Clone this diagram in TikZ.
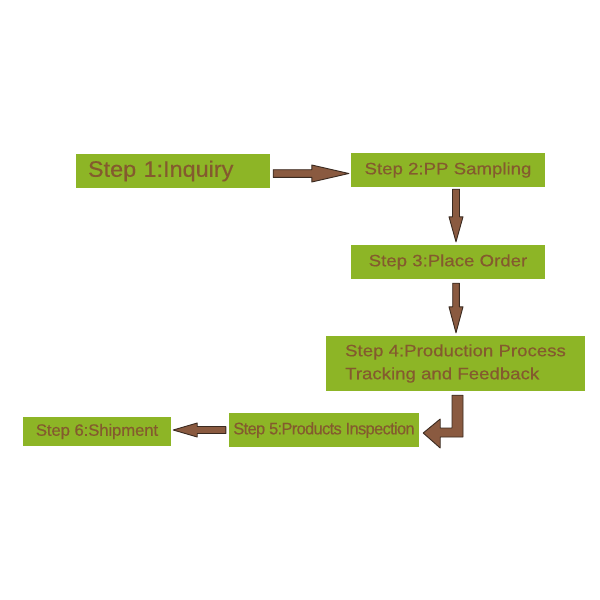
\documentclass[tikz,border=0pt]{standalone}
\usepackage{fontspec}
\setmainfont{Liberation Sans}
\newfontfamily\fA[FakeStretch=1.05,FakeBold=0.3]{Liberation Sans}
\newfontfamily\fB[FakeStretch=1.13,FakeBold=0.3]{Liberation Sans}
\newfontfamily\fC[FakeStretch=0.98,LetterSpace=-4,FakeBold=0.3]{Liberation Sans}
\newfontfamily\fD[FakeStretch=1.02,LetterSpace=-1,FakeBold=0.3]{Liberation Sans}
\usetikzlibrary{calc}
\definecolor{boxgreen}{HTML}{8DB526}
\definecolor{txtbrown}{HTML}{845A2E}
\definecolor{arrfill}{HTML}{8A5A40}
\definecolor{arrline}{HTML}{3A2A20}
\tikzset{
  stepbox/.style={fill=boxgreen, text=txtbrown, inner sep=0pt, anchor=center},
  arr/.style={fill=arrfill, draw=arrline, line width=0.9pt, line join=round}
}
% straight block arrow from #1 to #2: shaft half width #3, head half width #4, head length #5
\newcommand\flowarrow[5]{%
  \coordinate (fab) at ($(#2)!#5!(#1)$);
  \filldraw[arr] ($(#1)!#3!90:(#2)$) -- ($(fab)!#3!-90:(#1)$) -- ($(fab)!#4!-90:(#1)$)
    -- (#2) -- ($(fab)!#4!90:(#1)$) -- ($(fab)!#3!90:(#1)$) -- ($(#1)!#3!-90:(#2)$) -- cycle;}
\begin{document}
\begin{tikzpicture}[x=1pt,y=-1pt]
\useasboundingbox[fill=white] (0,0) rectangle (600,600);

\node[stepbox, minimum width=194pt, minimum height=34pt, text width=170pt, align=left,
  font=\fontsize{22.3}{26}\fA] (s1) at (173,171) {Step 1:Inquiry};
\node[stepbox, minimum width=194pt, minimum height=34pt,
  font=\fontsize{16.5}{23}\fB] (s2) at (448,170) {Step 2:PP Sampling};
\node[stepbox, minimum width=194pt, minimum height=34pt,
  font=\fontsize{16.5}{23}\fB] (s3) at (448,262) {Step 3:Place Order};
\node[stepbox, minimum width=259pt, minimum height=55pt, align=left,
  font=\fontsize{16.5}{23}\fB] (s4) at (455.5,363.5) {Step 4:Production Process\\Tracking and Feedback};
\node[stepbox, minimum width=190pt, minimum height=34pt,
  font=\fontsize{16.8}{20}\fC] (s5) at (324,430) {Step 5:Products Inspection};
\node[stepbox, minimum width=148pt, minimum height=29pt,
  font=\fontsize{16.5}{20}\fD] (s6) at (97,431.5) {Step 6:Shipment};

% arrow 1 -> 2
\coordinate (a1s) at ($(s1.east)+(3,2.5)$);
\coordinate (a1e) at ($(s2.west)+(-2,3.5)$);
\flowarrow{a1s}{a1e}{3.8pt}{8.5pt}{37pt}
% arrow 2 -> 3
\coordinate (a2s) at ($(s2.south)+(8,2)$);
\coordinate (a2e) at ($(s3.north)+(8,-3)$);
\flowarrow{a2s}{a2e}{3.5pt}{7pt}{25pt}
% arrow 3 -> 4
\coordinate (a3s) at ($(s3.south)+(8,4)$);
\coordinate (a3e) at ($(s4.north)+(0.5,-3)$);
\flowarrow{a3s}{a3e}{3.3pt}{7pt}{26pt}
% arrow 4 -> 5 (L-shaped)
\coordinate (Lt) at ($(s4.south)+(2,4)$);
\coordinate (Lh) at ($(s5.east)+(4,3)$);
\filldraw[arr] ($(Lt)+(-5.5,0)$) -- ($(Lt)+(5.5,0)$) -- ($(Lt |- Lh)+(5.5,4)$)
  -- ($(Lh)+(17,4)$) -- ($(Lh)+(17,15)$) -- (Lh) -- ($(Lh)+(17,-14)$)
  -- ($(Lh)+(17,-5)$) -- ($(Lt |- Lh)+(-5.5,-5)$) -- cycle;
% arrow 5 -> 6
\coordinate (a5s) at ($(s5.west)+(-3,0)$);
\coordinate (a5e) at ($(s6.east)+(2,-1.5)$);
\flowarrow{a5s}{a5e}{3.5pt}{7pt}{24pt}
\end{tikzpicture}
\end{document}
